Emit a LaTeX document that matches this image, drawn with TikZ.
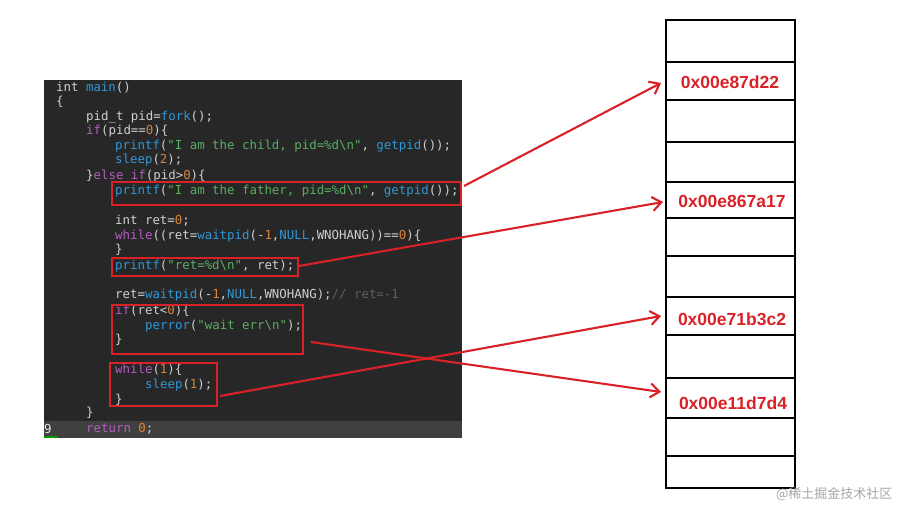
\documentclass[tikz,border=0pt]{standalone}
\usepackage{fontspec}
\setmainfont{Liberation Sans}
\newfontfamily\codefont{DejaVu Sans Mono}
\newfontfamily\cjkf{Noto Sans CJK SC}
\definecolor{cbg}{HTML}{272727}
\definecolor{ctx}{HTML}{CFCFCF}
\definecolor{ckw}{HTML}{B55DC0}
\definecolor{cfn}{HTML}{2F98D6}
\definecolor{cst}{HTML}{5AAE63}
\definecolor{cnum}{HTML}{D8843A}
\definecolor{ccm}{HTML}{5E5E5E}
\definecolor{rred}{HTML}{D92228}
\newcommand{\ckw}[1]{\textcolor{ckw}{#1}}
\newcommand{\cfn}[1]{\textcolor{cfn}{#1}}
\newcommand{\cst}[1]{\textcolor{cst}{#1}}
\newcommand{\cnm}[1]{\textcolor{cnum}{#1}}
\newcommand{\bs}{\textbackslash}
\begin{document}
\begin{tikzpicture}[x=1pt,y=-1pt,
  code/.style={anchor=west,inner sep=0pt,text=ctx,font=\codefont\fontsize{12.4}{14}\selectfont},
  rbox/.style={draw=rred,line width=2.4pt},
  cell/.style={draw=black,line width=2.6pt},
  addr/.style={text=rred,font=\bfseries\fontsize{17.5}{20}\selectfont},
  arr/.style={draw=rred,line width=2.1pt,-{Straight Barb[length=9pt,width=14pt,line width=2.1pt]}}]
\usetikzlibrary{arrows.meta}
\useasboundingbox (0,0) rectangle (901,510);
\fill[white] (0,0) rectangle (901,510);
\fill[cbg] (44,80) rectangle (462,438);
\fill[black!75] (44,421) rectangle (462,438);
\fill[green!60!black] (44,436) rectangle (58,438);
\node[code,text=ctx!50] at (44,429) {9};
\node[code] (l1) at (56,88) {int \cfn{main}()};
\node[code] (l2) at (56,102) {\{};
\node[code] (l3) at (86,117) {pid\_t pid=\cfn{fork}();};
\node[code] (l4) at (86,131) {\ckw{if}(pid==\cnm{0})\{};
\node[code] (l5) at (115,146) {\cfn{printf}(\cst{"I am the child, pid=\%d\bs n"}, \cfn{getpid}());};
\node[code] (l6) at (115,160) {\cfn{sleep}(\cnm{2});};
\node[code] (l7) at (86,176) {\}\ckw{else if}(pid>\cnm{0})\{};
\node[code] (l8) at (115,191) {\cfn{printf}(\cst{"I am the father, pid=\%d\bs n"}, \cfn{getpid}());};
\node[code] (l9) at (115,221) {int ret=\cnm{0};};
\node[code] (l10) at (115,236) {\ckw{while}((ret=\cfn{waitpid}(-\cnm{1},\cfn{NULL},WNOHANG))==\cnm{0})\{};
\node[code] (l11) at (115,250) {\}};
\node[code] (l12) at (115,266) {\cfn{printf}(\cst{"ret=\%d\bs n"}, ret);};
\node[code] (l13) at (115,295) {ret=\cfn{waitpid}(-\cnm{1},\cfn{NULL},WNOHANG);\textcolor{ccm}{// ret=-1}};
\node[code] (l14) at (115,311) {\ckw{if}(ret<\cnm{0})\{};
\node[code] (l15) at (145,326) {\cfn{perror}(\cst{"wait err\bs n"});};
\node[code] (l16) at (115,340) {\}};
\node[code] (l17) at (115,370) {\ckw{while}(\cnm{1})\{};
\node[code] (l18) at (145,385) {\cfn{sleep}(\cnm{1});};
\node[code] (l19) at (115,400) {\}};
\node[code] (l20) at (86,413) {\}};
\node[code] (l21) at (86,429) {\ckw{return} \cnm{0};};
% red boxes
\node[rbox,inner sep=0pt,minimum width=349pt,minimum height=23pt,anchor=north west] (b1) at (111,181) {};
\node[rbox,inner sep=0pt,minimum width=186pt,minimum height=18pt,anchor=north west] (b2) at (111,257) {};
\node[rbox,inner sep=0pt,minimum width=191pt,minimum height=49pt,anchor=north west] (b3) at (111,304) {};
\node[rbox,inner sep=0pt,minimum width=107pt,minimum height=43pt,anchor=north west] (b4) at (109,362) {};
% memory cells
\foreach \a/\b [count=\i] in {20/62,62/100,100/142,142/182,182/218,218/256,256/297,297/335,335/378,378/418,418/456,456/488}{
  \draw[cell] (666,\a) rectangle (795,\b);
  \coordinate (c\i) at (666,{(\a+\b)/2});
}
\node[addr] (a1) at (730,82) {0x00e87d22};
\node[addr] (a2) at (732,201) {0x00e867a17};
\node[addr] (a3) at (732,319) {0x00e71b3c2};
\node[addr] (a4) at (733,403) {0x00e11d7d4};
\coordinate (p1) at (464,186);
\coordinate (p2) at (299,266);
\coordinate (p3) at (311,342);
\coordinate (p4) at (220,396);
\coordinate (t1) at (661,83);
\coordinate (t2) at (663,202);
\coordinate (t3) at (661,392);
\coordinate (t4) at (661,316);
\draw[arr] (p1) -- (t1);
\draw[arr] (p2) -- (t2);
\draw[arr] (p3) -- (t3);
\draw[arr] (p4) -- (t4);
\node[text=black!35,font=\cjkf\fontsize{13}{15}\selectfont,anchor=east] (wm) at (896,494) {@稀土掘金技术社区};
\end{tikzpicture}
\end{document}
